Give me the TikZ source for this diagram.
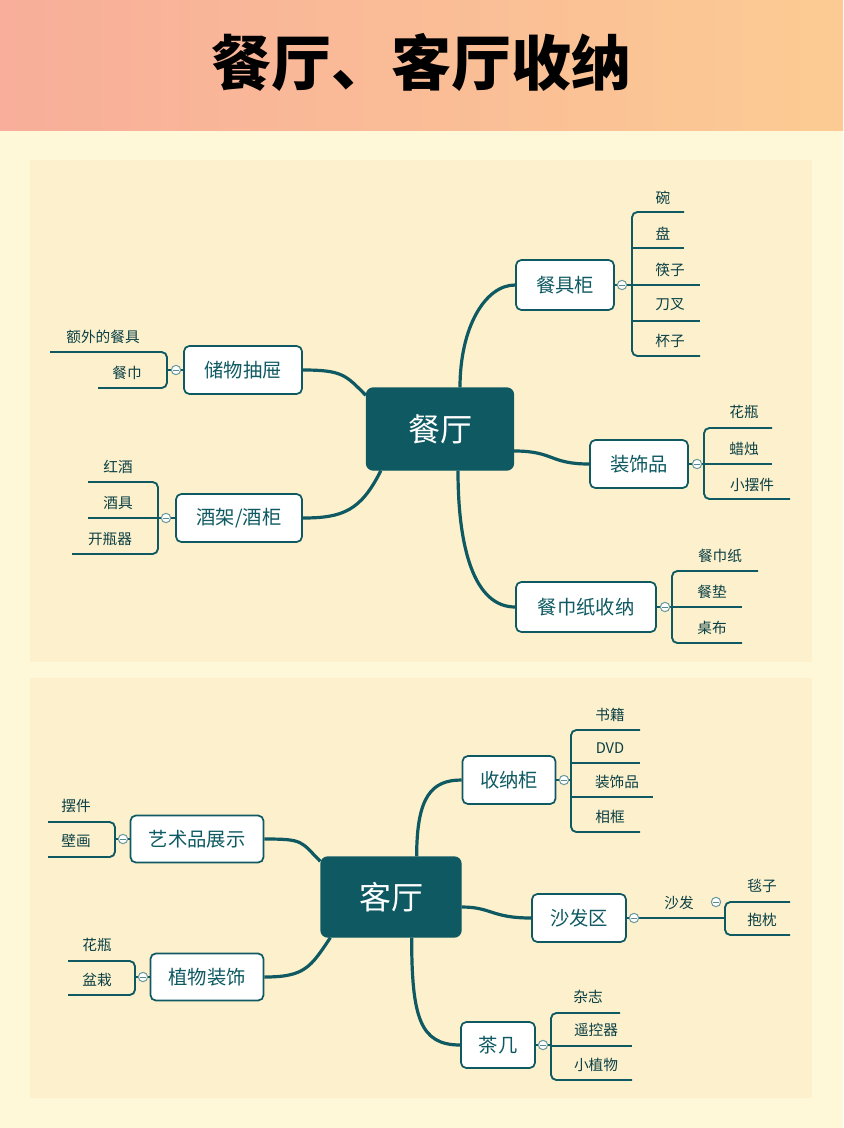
\documentclass[tikz,border=0pt]{standalone}
\usepackage{fontspec}
\setmainfont{Noto Sans CJK SC}
\definecolor{teal}{HTML}{0F5A62}
\definecolor{bg}{HTML}{FEF8D8}
\definecolor{panel}{HTML}{FDF1CD}
\definecolor{hl}{HTML}{F8AE9A}
\definecolor{hr}{HTML}{FCCB93}
\begin{document}
\begin{tikzpicture}[x=0.75pt,y=-0.75pt,
  root/.style={draw=teal,fill=teal,rounded corners=5pt,text=white,font=\fontsize{24}{26}\selectfont,line width=1pt},
  sub/.style={draw=teal,fill=white,rounded corners=4pt,text=teal,font=\fontsize{14.5}{16}\selectfont,line width=1.3pt},
  conn/.style={draw=teal,line width=2.4pt},
  leaf/.style={draw=teal,line width=1.4pt},
  lab/.style={text=teal!70!black,font=\fontsize{11}{12}\selectfont,inner sep=0},
  tog/.style={circle,draw=teal!60,fill=white,line width=0.8pt,minimum size=7pt,inner sep=0,path picture={\draw[teal!70,line width=0.6pt] ([xshift=-2pt]path picture bounding box.center)--([xshift=2pt]path picture bounding box.center);}}]
\useasboundingbox (0,0) rectangle (843,1128);
\fill[bg] (0,0) rectangle (843,1128);
\shade[left color=hl,right color=hr] (0,0) rectangle (843,130);
\node[font=\fontsize{45}{48}\selectfont\bfseries] (title) at (421,62) {餐厅、客厅收纳};
\fill[panel] (30,160) rectangle (812,662);
\fill[panel] (30,678) rectangle (812,1098);

% roots
\node[root,minimum width=0.75pt*147,minimum height=0.75pt*82] (r1) at (440,429) {餐厅};
\node[root,minimum width=0.75pt*140,minimum height=0.75pt*80] (r2) at (391,897) {客厅};

% level 1
\node[sub,minimum width=0.75pt*98,minimum height=0.75pt*50] (a1) at (565,285) {餐具柜};
\node[sub,minimum width=0.75pt*98,minimum height=0.75pt*48] (a2) at (639,464) {装饰品};
\node[sub,minimum width=0.75pt*140,minimum height=0.75pt*50] (a3) at (586,607) {餐巾纸收纳};
\node[sub,minimum width=0.75pt*118,minimum height=0.75pt*48] (a4) at (243,370) {储物抽屉};
\node[sub,minimum width=0.75pt*126,minimum height=0.75pt*48] (a5) at (239,518) {酒架/酒柜};
\node[sub,minimum width=0.75pt*93,minimum height=0.75pt*48] (b1) at (509,780) {收纳柜};
\node[sub,minimum width=0.75pt*94,minimum height=0.75pt*48] (b2) at (579,918) {沙发区};
\node[sub,minimum width=0.75pt*74,minimum height=0.75pt*46] (b3) at (498,1045) {茶几};
\node[sub,minimum width=0.75pt*133,minimum height=0.75pt*47] (b4) at (197,839) {艺术品展示};
\node[sub,minimum width=0.75pt*113,minimum height=0.75pt*47] (b5) at (207,977) {植物装饰};

% connectors
\draw[conn] (r1.north) ++(20,0) .. controls +(0,-60) and +(-30,0) .. (a1.west);
\draw[conn] (r1.east) ++(0,22) .. controls +(40,0) and +(-40,0) .. (a2.west);
\draw[conn] (r1.south) ++(18,0) .. controls +(0,80) and +(-40,0) .. (a3.west);
\draw[conn] (r1.north west) ++(0,8) .. controls +(-20,-20) and +(40,0) .. (a4.east);
\draw[conn] (r1.south west) ++(15,0) .. controls +(-20,40) and +(40,0) .. (a5.east);
\draw[conn] (r2.north east) ++(-45,0) .. controls +(0,-60) and +(-30,0) .. (b1.west);
\draw[conn] (r2.east) ++(0,10) .. controls +(30,0) and +(-40,0) .. (b2.west);
\draw[conn] (r2.south east) ++(-50,0) .. controls +(0,80) and +(-40,0) .. (b3.west);
\draw[conn] (r2.north west) ++(0,5) .. controls +(-20,-20) and +(40,0) .. (b4.east);
\draw[conn] (r2.south west) ++(10,0) .. controls +(-20,30) and +(40,0) .. (b5.east);

% ---- 餐具柜
\draw[leaf] (a1.east) -- (632,285);
\draw[leaf,rounded corners=4pt] (684,212) -| (632,356) -- (700,356);
\draw[leaf] (632,248)--(684,248) (632,285)--(700,285) (632,321)--(700,321);
\node[tog] (t1) at (622,285) {};
\node[lab] (l11) at (663,198) {碗};
\node[lab] (l12) at (663,234) {盘};
\node[lab] (l13) at (670,270) {筷子};
\node[lab] (l14) at (670,305) {刀叉};
\node[lab] (l15) at (670,341) {杯子};
% ---- 装饰品
\draw[leaf] (a2.east) -- (704,464);
\draw[leaf,rounded corners=4pt] (772,428) -| (704,499) -- (790,499);
\draw[leaf] (704,464)--(772,464);
\node[tog] (t2) at (697,464) {};
\node[lab] (l21) at (744,412) {花瓶};
\node[lab] (l22) at (744,449) {蜡烛};
\node[lab] (l23) at (752,485) {小摆件};
% ---- 餐巾纸收纳
\draw[leaf] (a3.east) -- (672,607);
\draw[leaf,rounded corners=4pt] (758,571) -| (672,643) -- (742,643);
\draw[leaf] (672,607)--(742,607);
\node[tog] (t3) at (665,607) {};
\node[lab] (l31) at (720,556) {餐巾纸};
\node[lab] (l32) at (712,592) {餐垫};
\node[lab] (l33) at (712,628) {桌布};
% ---- 储物抽屉
\draw[leaf] (a4.west) -- (167,370);
\draw[leaf,rounded corners=4pt] (50,352) -- (167,352) -- (167,388) -- (98,388);
\node[tog] (t4) at (176,370) {};
\node[lab] (l41) at (103,337) {额外的餐具};
\node[lab] (l42) at (127,373) {餐巾};
% ---- 酒架
\draw[leaf] (a5.west) -- (158,518);
\draw[leaf,rounded corners=4pt] (88,482) -| (158,554) -- (72,554);
\draw[leaf] (88,518)--(158,518);
\node[tog] (t5) at (166,518) {};
\node[lab] (l51) at (118,467) {红酒};
\node[lab] (l52) at (118,503) {酒具};
\node[lab] (l53) at (110,539) {开瓶器};
% ---- 收纳柜
\draw[leaf] (b1.east) -- (571,780);
\draw[leaf,rounded corners=4pt] (640,730) -| (571,832) -- (640,832);
\draw[leaf] (571,763)--(640,763) (571,797)--(653,797);
\node[tog] (t6) at (564,780) {};
\node[lab] (l61) at (610,715) {书籍};
\node[lab] (l62) at (610,748) {DVD};
\node[lab] (l63) at (617,782) {装饰品};
\node[lab] (l64) at (610,817) {相框};
% ---- 沙发区
\draw[leaf] (b2.east) -- (725,918);
\draw[leaf,rounded corners=4pt] (790,902) -| (725,935) -- (790,935);
\node[tog] (t7) at (634,918) {};
\node[tog] (t8) at (716,902) {};
\node[lab] (l70) at (679,903) {沙发};
\node[lab] (l71) at (762,886) {毯子};
\node[lab] (l72) at (762,920) {抱枕};
% ---- 茶几
\draw[leaf] (b3.east) -- (551,1045);
\draw[leaf,rounded corners=4pt] (620,1013) -| (551,1080) -- (632,1080);
\draw[leaf] (551,1046)--(632,1046);
\node[tog] (t9) at (543,1045) {};
\node[lab] (l81) at (588,997) {杂志};
\node[lab] (l82) at (596,1030) {遥控器};
\node[lab] (l83) at (596,1065) {小植物};
% ---- 艺术品展示
\draw[leaf] (b4.west) -- (115,839);
\draw[leaf,rounded corners=4pt] (48,822) -| (115,857) -- (48,857);
\node[tog] (t10) at (123,839) {};
\node[lab] (l91) at (76,806) {摆件};
\node[lab] (l92) at (76,841) {壁画};
% ---- 植物装饰
\draw[leaf] (b5.west) -- (135,977);
\draw[leaf,rounded corners=4pt] (68,961) -| (135,995) -- (68,995);
\node[tog] (t11) at (143,977) {};
\node[lab] (l101) at (97,945) {花瓶};
\node[lab] (l102) at (97,980) {盆栽};
\end{tikzpicture}
\end{document}
